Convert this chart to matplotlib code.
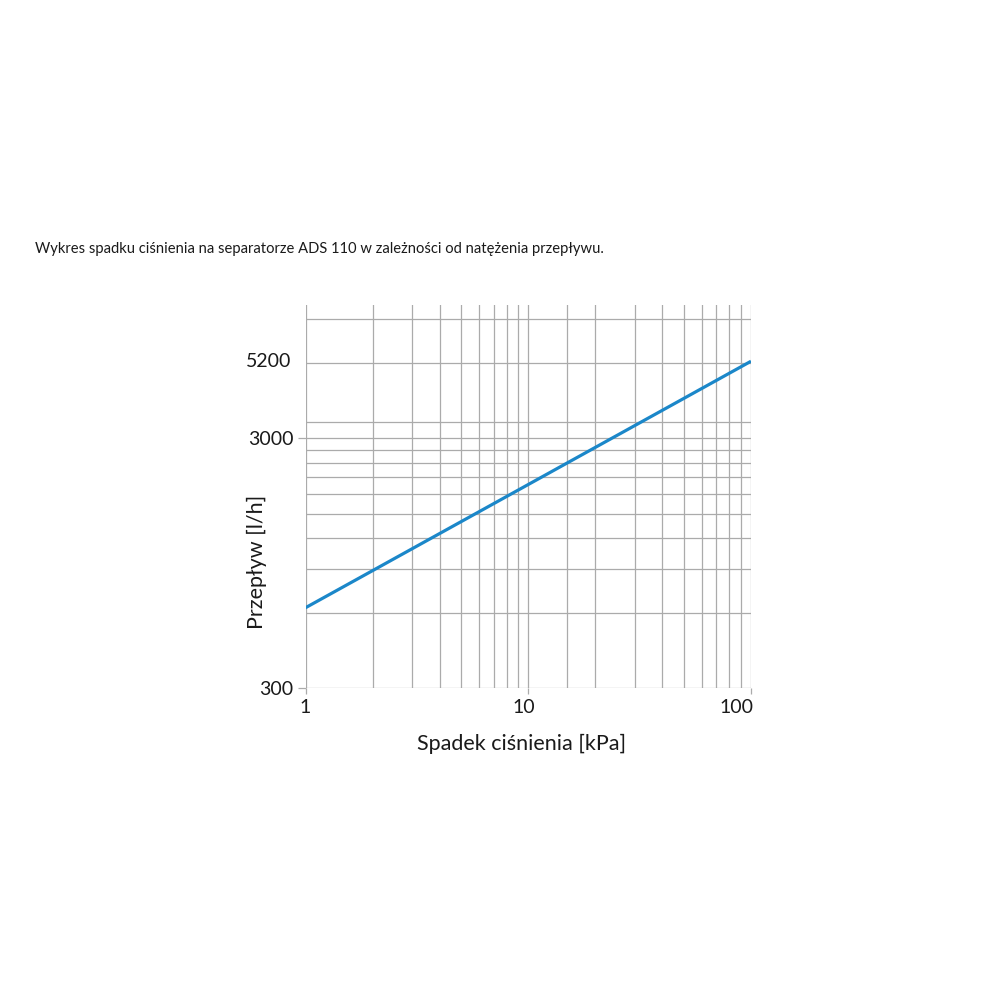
import matplotlib.pyplot as plt
from matplotlib.transforms import ScaledTranslation

plt.rcParams['font.family'] = ['Lato', 'DejaVu Sans']

# data
pressure = [1, 10, 100]          # kPa
flow = [630, 1960, 6100]         # l/h, on the drawn log scale
peak_label = "5200"

x_grid = [1, 2, 3, 4, 5, 6, 7, 8, 9, 10, 15, 20, 30, 40, 50, 60, 70, 80, 90, 100]
y_grid = [300, 600, 900, 1200, 1500, 1800, 2100, 2400, 2700, 3000, 3500, 6000, 9000]
x_ticks = [1, 10, 100]
x_tick_labels = ["1", "10", "100"]
y_ticks = [300, 3000]
y_tick_labels = ["300", "3000"]

title = "Wykres spadku ciśnienia na separatorze ADS 110 w zależności od natężenia przepływu."

grid_col = "#ababab"
blue = "#1b87c9"
txt = "#1a1a1a"

fig = plt.figure(figsize=(10, 10), dpi=100)
ax = fig.add_axes([0.3055, 0.3117, 0.4455, 0.3833])

ax.set_xscale('log')
ax.set_yscale('log')
ax.set_xlim(1, 100)
ax.set_ylim(300, 10240)

for s in ax.spines.values():
    s.set_visible(False)

for xv in x_grid:
    ax.axvline(xv, color=grid_col, lw=0.9, zorder=1)
for yv in y_grid:
    ax.axhline(yv, color=grid_col, lw=0.9, zorder=1)

ax.plot(pressure, flow, color=blue, lw=2.3, solid_capstyle='butt', zorder=3)

ax.xaxis.set_minor_locator(plt.NullLocator())
ax.yaxis.set_minor_locator(plt.NullLocator())
ax.set_xticks(x_ticks)
ax.set_xticklabels(x_tick_labels)
ax.set_yticks(y_ticks)
ax.set_yticklabels(y_tick_labels)
ax.tick_params(axis='x', length=4.3, width=0.9, color=grid_col, pad=3.5,
               labelsize=14, labelcolor=txt)
ax.tick_params(axis='y', length=5.8, width=0.9, color=grid_col, pad=3,
               labelsize=14, labelcolor=txt)

# small nudges of the x labels, as in the original
xl = ax.get_xticklabels()
xl[1].set_transform(xl[1].get_transform() + ScaledTranslation(-3 / 72, 0, fig.dpi_scale_trans))
xl[2].set_ha('right')
xl[2].set_transform(xl[2].get_transform() + ScaledTranslation(1.5 / 72, 0, fig.dpi_scale_trans))

# label for the end value of the curve (no tick mark in the original)
ax.annotate(peak_label, xy=(pressure[0], flow[-1]), xycoords='data',
            xytext=(-10, 0), textcoords='offset points',
            ha='right', va='center', fontsize=14, color=txt)

ax.set_xlabel("Spadek ciśnienia [kPa]", fontsize=15.5, color=txt)
ax.xaxis.set_label_coords(0.484, -0.145)
ax.xaxis.label.set_va('center')
ax.set_ylabel("Przepływ [l/h]", fontsize=15.5, color=txt)
ax.yaxis.set_label_coords(-0.109, 0.33)
ax.yaxis.label.set_va('center')

fig.text(0.035, 0.751, title, fontsize=10.6, color=txt, va='center', ha='left')

fig.savefig("out.png", dpi=100, facecolor='white')
